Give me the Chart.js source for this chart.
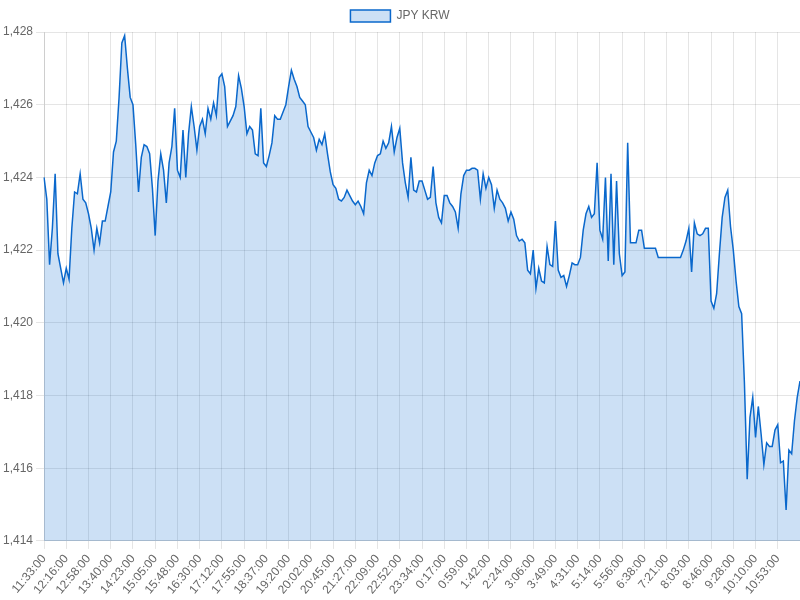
<!DOCTYPE html>
<html>
<head>
<meta charset="utf-8">
<script src="https://cdn.jsdelivr.net/npm/chart.js@4/dist/chart.umd.min.js"></script>
<style>
  html, body { margin: 0; padding: 0; background: #fff; }
  #wrap { width: 800px; height: 600px; }
</style>
</head>
<body>
<div id="wrap"><canvas id="fxChart"></canvas></div>
<script>
// tick labels shown on the x axis (one every 8 samples)
const tickLabels = ['11:33:00', '12:16:00', '12:58:00', '13:40:00', '14:23:00', '15:05:00', '15:48:00',
    '16:30:00', '17:12:00', '17:55:00', '18:37:00', '19:20:00', '20:02:00', '20:45:00', '21:27:00',
    '22:09:00', '22:52:00', '23:34:00', '0:17:00', '0:59:00', '1:42:00', '2:24:00', '3:06:00',
    '3:49:00', '4:31:00', '5:14:00', '5:56:00', '6:38:00', '7:21:00', '8:03:00', '8:46:00',
    '9:28:00', '10:10:00', '10:53:00'];
const samplesPerTick = 8;

// JPY KRW rate (one row per tick interval)
const jpyKrw = [
    1424.0, 1423.4, 1421.6, 1422.6, 1424.1, 1421.9, 1421.5, 1421.1,
    1421.5, 1421.2, 1422.6, 1423.6, 1423.55, 1424.1, 1423.4, 1423.3,
    1423.0, 1422.6, 1422.0, 1422.6, 1422.2, 1422.8, 1422.8, 1423.2,
    1423.6, 1424.7, 1425.0, 1426.2, 1427.7, 1427.9, 1427.0, 1426.2,
    1426.0, 1424.9, 1423.6, 1424.55, 1424.9, 1424.85, 1424.65, 1423.7,
    1422.4, 1423.9, 1424.65, 1424.2, 1423.3, 1424.4, 1424.85, 1425.9,
    1424.2, 1424.0, 1425.3, 1424.0, 1425.2, 1425.95, 1425.4, 1424.75,
    1425.4, 1425.6, 1425.2, 1425.9, 1425.6, 1426.05, 1425.7, 1426.75,
    1426.85, 1426.5, 1425.4, 1425.55, 1425.7, 1425.95, 1426.8, 1426.45,
    1425.95, 1425.2, 1425.4, 1425.3, 1424.65, 1424.6, 1425.9, 1424.4,
    1424.3, 1424.6, 1424.95, 1425.7, 1425.6, 1425.6, 1425.8, 1426.0,
    1426.5, 1426.95, 1426.7, 1426.5, 1426.2, 1426.1, 1426.0, 1425.4,
    1425.25, 1425.1, 1424.75, 1425.05, 1424.9, 1425.2, 1424.65, 1424.15,
    1423.8, 1423.7, 1423.4, 1423.35, 1423.45, 1423.65, 1423.5, 1423.35,
    1423.25, 1423.35, 1423.2, 1423.0, 1423.85, 1424.2, 1424.05, 1424.4,
    1424.6, 1424.65, 1425.0, 1424.8, 1424.95, 1425.4, 1424.7, 1425.1,
    1425.35, 1424.4, 1423.85, 1423.45, 1424.55, 1423.65, 1423.6, 1423.9,
    1423.9, 1423.65, 1423.4, 1423.45, 1424.3, 1423.3, 1422.9, 1422.75,
    1423.5, 1423.5, 1423.3, 1423.2, 1423.05, 1422.6, 1423.55, 1424.05,
    1424.2, 1424.2, 1424.25, 1424.25, 1424.2, 1423.4, 1424.1, 1423.7,
    1424.0, 1423.8, 1423.15, 1423.65, 1423.4, 1423.3, 1423.15, 1422.8,
    1423.05, 1422.85, 1422.4, 1422.25, 1422.3, 1422.2, 1421.45, 1421.35,
    1422.0, 1420.95, 1421.5, 1421.15, 1421.1, 1422.1, 1421.6, 1421.55,
    1422.8, 1421.45, 1421.25, 1421.3, 1421.0, 1421.3, 1421.65, 1421.6,
    1421.6, 1421.8, 1422.55, 1423.0, 1423.2, 1422.9, 1423.0, 1424.4,
    1422.55, 1422.3, 1424.0, 1421.7, 1424.1, 1421.6, 1423.9, 1421.9,
    1421.3, 1421.4, 1424.95, 1422.2, 1422.2, 1422.2, 1422.55, 1422.55,
    1422.05, 1422.05, 1422.05, 1422.05, 1422.05, 1421.8, 1421.8, 1421.8,
    1421.8, 1421.8, 1421.8, 1421.8, 1421.8, 1421.8, 1422.0, 1422.25,
    1422.6, 1421.4, 1422.75, 1422.45, 1422.4, 1422.45, 1422.6, 1422.6,
    1420.6, 1420.4, 1420.8, 1421.9, 1422.9, 1423.45, 1423.65, 1422.65,
    1422.0, 1421.15, 1420.45, 1420.25, 1418.35, 1415.7, 1417.4, 1417.95,
    1416.85, 1417.7, 1416.95, 1416.1, 1416.7, 1416.6, 1416.6, 1417.05,
    1417.2, 1416.15, 1416.2, 1414.85, 1416.5, 1416.4, 1417.3, 1417.95,
    1418.4
];

const yMin = 1414;
const yMax = 1428;
const yStep = 2;

// category labels: tick text on every 8th sample, blank in between
const labels = jpyKrw.map(function (v, i) {
    return (i % samplesPerTick === 0 && tickLabels[i / samplesPerTick]) || '';
});

const ctx = document.getElementById('fxChart').getContext('2d');
new Chart(ctx, {
    type: 'line',
    data: {
        labels: labels,
        datasets: [{
            label: 'JPY KRW',
            data: jpyKrw,
            borderColor: 'rgb(10, 104, 204)',
            backgroundColor: 'rgba(0, 102, 204, 0.2)',
            borderWidth: 1.5,
            fill: true,
            tension: 0,
            pointRadius: 0
        }]
    },
    options: {
        responsive: true,
        maintainAspectRatio: false,
        animation: false,
        plugins: {
            legend: { display: true }
        },
        scales: {
            x: {
                ticks: {
                    autoSkip: false,
                    maxRotation: 50,
                    minRotation: 50,
                    // blank categories return null, so no tick or grid line is drawn for them
                    callback: function (val) {
                        const l = this.getLabelForValue(val);
                        return l ? l : null;
                    }
                }
            },
            y: {
                min: yMin,
                max: yMax,
                ticks: { stepSize: yStep }
            }
        }
    }
});
</script>
</body>
</html>
